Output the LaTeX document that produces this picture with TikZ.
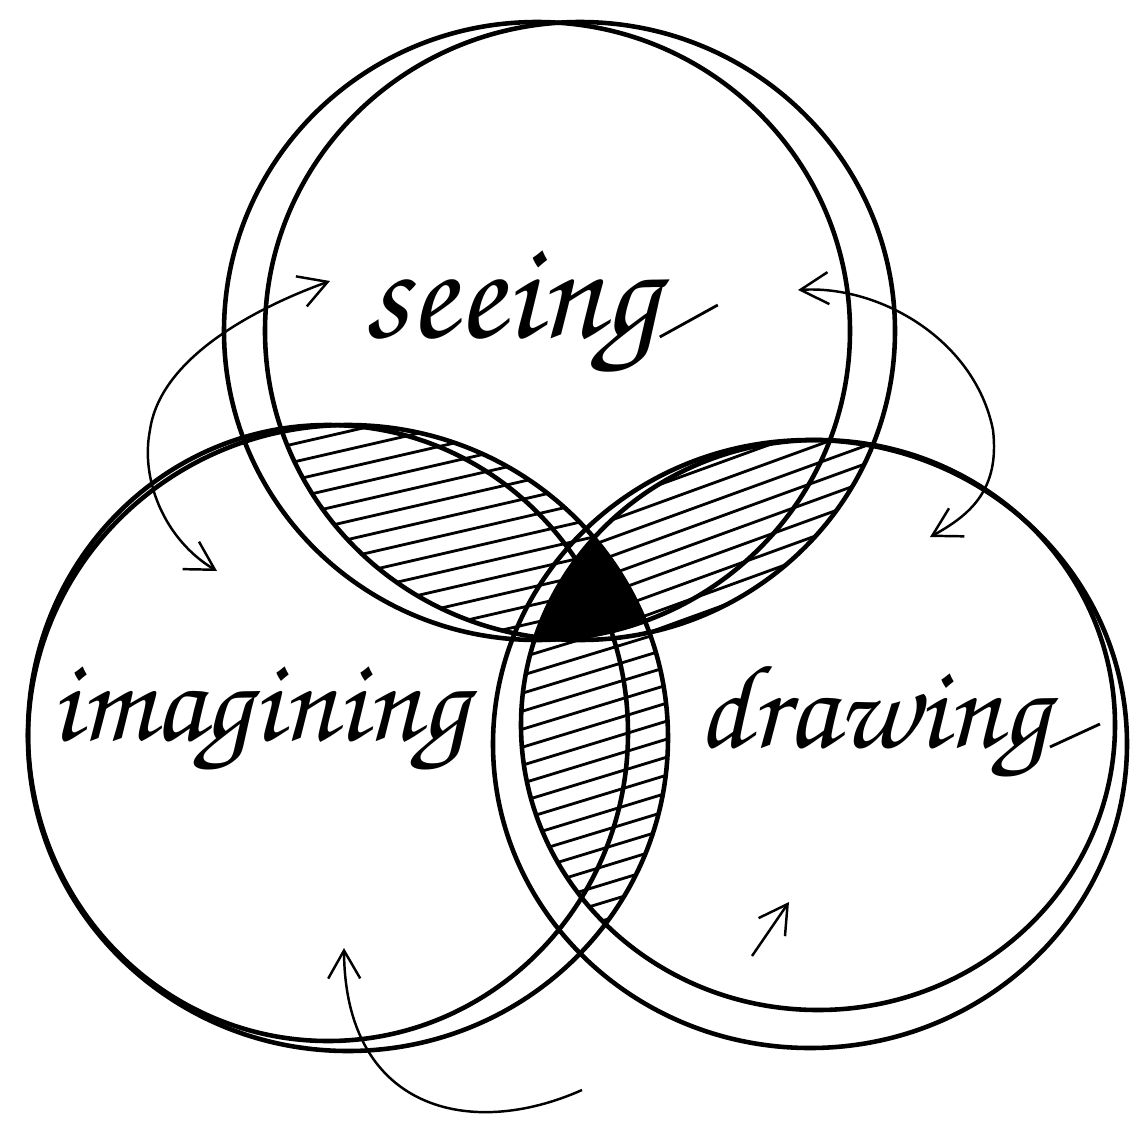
\documentclass[tikz,border=0pt]{standalone}
\usepackage[T1,TU]{fontenc}
\usepackage{tikz}
\usetikzlibrary{arrows.meta}
\newcommand\handfont{\fontencoding{T1}\fontfamily{pzc}\fontseries{mb}\fontshape{it}\selectfont}

\begin{document}
\begin{tikzpicture}[x=0.01cm, y=-0.01cm,
  ring/.style={line width=1.3pt},
  hatch/.style={line width=0.8pt},
  swing/.style={line width=0.7pt,
    {Straight Barb[length=2.8mm,width=3.2mm]}-{Straight Barb[length=2.8mm,width=3.2mm]}},
  lift/.style={line width=0.7pt, -{Straight Barb[length=2.8mm,width=3.2mm]}},
  word/.style={font=\handfont\fontsize{34}{34}\selectfont, inner sep=0pt, anchor=base west}]

  \useasboundingbox (0,0) rectangle (1136,1130);
  \fill[white] (0,0) rectangle (1136,1130);

  % centres of the doubled circles
  \coordinate (seeA) at (537,331);
  \coordinate (seeB) at (580,331);
  \coordinate (imgA) at (328,733);
  \coordinate (imgB) at (348,738);
  \coordinate (drwA) at (810,744);
  \coordinate (drwB) at (818,725);

  % hatched overlaps
  \begin{scope}
    \clip (seeB) ellipse [x radius=315, y radius=309];
    \clip (imgB) ellipse [x radius=320, y radius=313];
    \foreach \k in {0,...,22}
      \draw[hatch] (250,400+18*\k) -- (650,400+18*\k-92);
  \end{scope}
  \begin{scope}
    \clip (seeB) ellipse [x radius=315, y radius=309];
    \clip (drwB) ellipse [x radius=297, y radius=285];
    \foreach \k in {0,...,22}
      \draw[hatch] (540,420+18*\k) -- (920,420+18*\k-138);
  \end{scope}
  \begin{scope}
    \clip (imgB) ellipse [x radius=320, y radius=313];
    \clip (drwB) ellipse [x radius=297, y radius=285];
    \foreach \k in {0,...,28}
      \draw[hatch] (500,520+18*\k) -- (700,520+18*\k-61);
  \end{scope}

  % the common core
  \begin{scope}
    \clip (seeA) ellipse [x radius=313, y radius=309];
    \clip (imgB) ellipse [x radius=320, y radius=313];
    \fill (drwB) ellipse [x radius=297, y radius=285];
  \end{scope}

  \foreach \c/\rx/\ry in {seeA/313/309, seeB/315/309, imgA/300/308,
                          imgB/320/313, drwA/317/304, drwB/297/285}
    \draw[ring] (\c) ellipse [x radius=\rx, y radius=\ry];

  % labels
  \node[word, font=\handfont\fontsize{40}{40}\selectfont] (see) at (363,337) {seeing};
  \node[word] (img) at (50,740) {imagining};
  \node[word] (drw) at (697,747) {drawing};
  \draw[hatch] (see.base east) -- ++(58,-32);
  \draw[hatch] (drw.base east) -- ++(50,-23);

  % arrow ends
  \coordinate (seeL) at (330,281);
  \coordinate (imgT) at (217,571);
  \coordinate (seeR) at (798,290);
  \coordinate (drwT) at (930,537);
  \coordinate (imgU) at (344,948);
  \coordinate (tail) at (582,1090);
  \coordinate (drwS) at (752,956);
  \coordinate (drwU) at (789,902);

  \draw[swing] (imgT) .. controls (165,540) and (140,480) .. (150,430)
    .. controls (160,360) and (250,310) .. (seeL);
  \draw[swing] (seeR) .. controls (880,285) and (975,340) .. (993,430)
    .. controls (1000,490) and (970,515) .. (drwT);
  \draw[lift] (tail) .. controls (470,1140) and (345,1110) .. (imgU);
  \draw[lift] (drwS) -- (drwU);
\end{tikzpicture}
\end{document}
